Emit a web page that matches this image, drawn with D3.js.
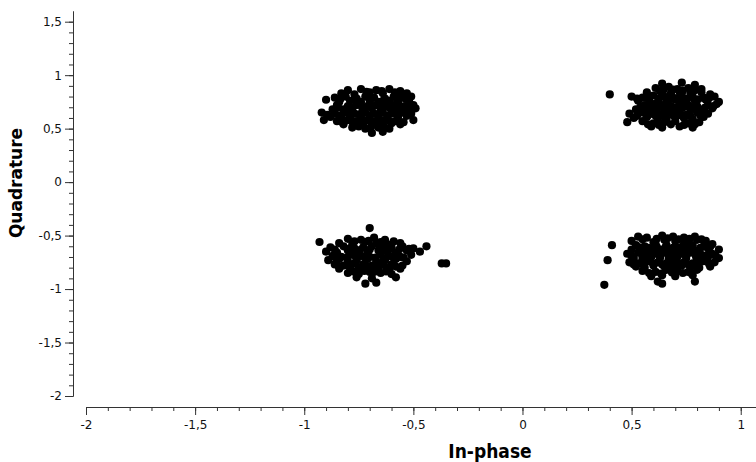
<!DOCTYPE html>
<html><head><meta charset="utf-8">
<script src="https://cdn.jsdelivr.net/npm/d3@7"></script>
<style>
html,body{margin:0;padding:0;background:#fff;}
svg{display:block;}
</style></head>
<body>
<svg id="chart" width="756" height="462"></svg>
<script>
// ---- data (In-phase, Quadrature) ----
const clusterTopLeft = [
 [-0.80,0.86],[-0.74,0.87],[-0.67,0.86],[-0.61,0.87],[-0.56,0.85],
 [-0.83,0.83],[-0.77,0.82],[-0.70,0.84],[-0.64,0.83],[-0.58,0.82],[-0.53,0.83],
 [-0.86,0.79],[-0.81,0.80],[-0.76,0.78],[-0.72,0.80],[-0.68,0.79],[-0.63,0.78],[-0.59,0.80],[-0.55,0.79],[-0.51,0.80],
 [-0.90,0.77],[-0.84,0.75],[-0.79,0.76],[-0.74,0.75],[-0.70,0.76],[-0.66,0.75],[-0.61,0.76],[-0.57,0.74],[-0.52,0.76],
 [-0.85,0.72],[-0.80,0.71],[-0.76,0.72],[-0.71,0.71],[-0.67,0.72],[-0.63,0.71],[-0.59,0.72],[-0.54,0.71],[-0.50,0.72],
 [-0.87,0.68],[-0.82,0.68],[-0.78,0.67],[-0.73,0.68],[-0.69,0.69],[-0.65,0.67],[-0.60,0.68],[-0.56,0.67],[-0.52,0.68],[-0.49,0.69],
 [-0.92,0.65],[-0.86,0.64],[-0.81,0.65],[-0.77,0.64],[-0.72,0.65],[-0.68,0.64],[-0.64,0.65],[-0.59,0.64],[-0.55,0.65],[-0.51,0.64],
 [-0.88,0.61],[-0.83,0.61],[-0.79,0.60],[-0.74,0.61],[-0.70,0.60],[-0.66,0.61],[-0.62,0.60],[-0.57,0.61],[-0.53,0.62],
 [-0.91,0.58],[-0.85,0.57],[-0.80,0.58],[-0.76,0.57],[-0.71,0.58],[-0.67,0.57],[-0.63,0.58],[-0.58,0.57],[-0.50,0.58],
 [-0.82,0.54],[-0.77,0.55],[-0.73,0.54],[-0.69,0.53],[-0.64,0.54],[-0.60,0.55],[-0.56,0.54],
 [-0.78,0.51],[-0.72,0.50],[-0.66,0.51],[-0.61,0.50],
 [-0.69,0.46],[-0.64,0.47],
 [-0.715,0.845],[-0.645,0.85],[-0.585,0.84],
 [-0.835,0.775],[-0.765,0.77],[-0.695,0.78],[-0.635,0.77],[-0.575,0.775],[-0.535,0.78],
 [-0.845,0.70],[-0.785,0.695],[-0.735,0.70],[-0.69,0.705],[-0.65,0.70],[-0.61,0.695],[-0.57,0.70],[-0.525,0.70],
 [-0.895,0.63],[-0.84,0.625],[-0.79,0.63],[-0.745,0.635],[-0.70,0.625],[-0.66,0.63],[-0.615,0.625],[-0.57,0.635],[-0.53,0.63],
 [-0.825,0.56],[-0.78,0.565],[-0.735,0.56],[-0.69,0.555],[-0.65,0.56],[-0.605,0.565],[-0.545,0.56],
 [-0.75,0.52],[-0.695,0.515],[-0.635,0.52]
];
const clusterTopRight = [
 [0.40,0.82],
 [0.64,0.92],[0.73,0.93],[0.79,0.91],
 [0.61,0.88],[0.67,0.89],[0.71,0.87],[0.76,0.88],[0.82,0.87],
 [0.57,0.84],[0.63,0.85],[0.68,0.83],[0.72,0.84],[0.77,0.83],[0.82,0.84],[0.86,0.82],
 [0.50,0.80],[0.55,0.79],[0.60,0.81],[0.65,0.80],[0.69,0.79],[0.73,0.81],[0.78,0.80],[0.83,0.79],[0.88,0.80],
 [0.53,0.76],[0.58,0.77],[0.62,0.75],[0.66,0.76],[0.70,0.77],[0.74,0.75],[0.79,0.76],[0.84,0.77],[0.90,0.75],
 [0.56,0.72],[0.60,0.73],[0.64,0.72],[0.68,0.71],[0.72,0.73],[0.76,0.72],[0.80,0.71],[0.85,0.72],[0.89,0.73],
 [0.52,0.68],[0.57,0.69],[0.61,0.68],[0.65,0.67],[0.69,0.68],[0.73,0.69],[0.77,0.68],[0.82,0.67],[0.87,0.69],
 [0.49,0.64],[0.55,0.65],[0.59,0.64],[0.63,0.63],[0.67,0.65],[0.71,0.64],[0.75,0.63],[0.80,0.65],[0.85,0.64],
 [0.51,0.60],[0.57,0.61],[0.62,0.60],[0.66,0.59],[0.70,0.61],[0.74,0.60],[0.78,0.59],[0.83,0.61],
 [0.48,0.56],[0.55,0.57],[0.60,0.55],[0.65,0.56],[0.70,0.57],[0.76,0.55],[0.81,0.56],
 [0.59,0.52],[0.64,0.51],[0.72,0.52],[0.78,0.51],
 [0.645,0.86],[0.69,0.865],[0.735,0.855],[0.79,0.86],
 [0.525,0.78],[0.575,0.785],[0.625,0.78],[0.675,0.775],[0.715,0.785],[0.755,0.78],[0.805,0.775],[0.855,0.785],
 [0.54,0.70],[0.585,0.705],[0.625,0.70],[0.665,0.695],[0.705,0.70],[0.745,0.705],[0.785,0.70],[0.835,0.695],[0.875,0.71],
 [0.525,0.62],[0.575,0.625],[0.61,0.62],[0.65,0.615],[0.69,0.625],[0.73,0.62],[0.77,0.615],[0.815,0.625],
 [0.575,0.54],[0.625,0.535],[0.68,0.54],[0.74,0.535],[0.79,0.54]
];
const clusterBottomLeft = [
 [-0.70,-0.43],
 [-0.80,-0.53],[-0.74,-0.54],[-0.68,-0.52],[-0.63,-0.54],
 [-0.93,-0.56],[-0.84,-0.57],[-0.78,-0.58],[-0.72,-0.56],[-0.67,-0.57],[-0.62,-0.58],[-0.56,-0.57],
 [-0.88,-0.61],[-0.82,-0.60],[-0.77,-0.62],[-0.73,-0.61],[-0.69,-0.60],[-0.64,-0.62],[-0.60,-0.61],[-0.55,-0.60],[-0.50,-0.62],[-0.44,-0.60],
 [-0.90,-0.65],[-0.85,-0.66],[-0.80,-0.64],[-0.75,-0.65],[-0.71,-0.66],[-0.66,-0.64],[-0.62,-0.65],[-0.58,-0.66],[-0.53,-0.64],[-0.47,-0.65],
 [-0.87,-0.69],[-0.83,-0.70],[-0.78,-0.68],[-0.74,-0.69],[-0.70,-0.70],[-0.65,-0.68],[-0.61,-0.69],[-0.56,-0.70],[-0.51,-0.68],
 [-0.89,-0.73],[-0.84,-0.72],[-0.80,-0.74],[-0.76,-0.73],[-0.71,-0.72],[-0.67,-0.74],[-0.63,-0.73],[-0.58,-0.72],[-0.53,-0.74],
 [-0.86,-0.77],[-0.82,-0.78],[-0.77,-0.76],[-0.73,-0.77],[-0.69,-0.78],[-0.64,-0.76],[-0.60,-0.77],[-0.55,-0.78],[-0.37,-0.76],[-0.35,-0.76],
 [-0.84,-0.81],[-0.79,-0.80],[-0.74,-0.82],[-0.70,-0.81],[-0.66,-0.80],[-0.61,-0.82],[-0.56,-0.81],
 [-0.80,-0.85],[-0.75,-0.86],[-0.70,-0.84],[-0.65,-0.85],[-0.60,-0.86],
 [-0.76,-0.89],[-0.69,-0.90],[-0.58,-0.89],
 [-0.72,-0.95],[-0.67,-0.94],
 [-0.77,-0.555],[-0.705,-0.55],[-0.65,-0.56],[-0.59,-0.555],
 [-0.86,-0.63],[-0.795,-0.625],[-0.745,-0.635],[-0.70,-0.63],[-0.655,-0.625],[-0.615,-0.635],[-0.565,-0.63],[-0.52,-0.625],
 [-0.855,-0.71],[-0.805,-0.705],[-0.76,-0.715],[-0.72,-0.71],[-0.675,-0.705],[-0.635,-0.715],[-0.59,-0.71],[-0.545,-0.705],
 [-0.84,-0.79],[-0.795,-0.785],[-0.75,-0.795],[-0.71,-0.79],[-0.665,-0.785],[-0.625,-0.795],[-0.58,-0.79],
 [-0.775,-0.835],[-0.725,-0.83],[-0.68,-0.84],[-0.625,-0.835]
];
const clusterBottomRight = [
 [0.53,-0.51],[0.57,-0.52],[0.64,-0.50],[0.69,-0.51],[0.74,-0.52],[0.79,-0.51],
 [0.50,-0.55],[0.60,-0.56],[0.65,-0.54],[0.70,-0.55],[0.75,-0.56],[0.80,-0.54],[0.84,-0.55],
 [0.41,-0.59],[0.52,-0.59],[0.56,-0.60],[0.61,-0.58],[0.66,-0.59],[0.70,-0.60],[0.74,-0.58],[0.78,-0.59],[0.83,-0.60],[0.87,-0.58],
 [0.50,-0.63],[0.55,-0.64],[0.59,-0.62],[0.63,-0.63],[0.67,-0.64],[0.71,-0.62],[0.75,-0.63],[0.80,-0.64],[0.85,-0.62],[0.90,-0.63],
 [0.48,-0.67],[0.53,-0.66],[0.57,-0.68],[0.61,-0.67],[0.65,-0.66],[0.69,-0.68],[0.73,-0.67],[0.77,-0.66],[0.82,-0.68],[0.87,-0.67],
 [0.51,-0.71],[0.55,-0.72],[0.59,-0.70],[0.63,-0.71],[0.67,-0.72],[0.71,-0.70],[0.75,-0.71],[0.80,-0.72],[0.85,-0.70],[0.90,-0.71],
 [0.39,-0.73],
 [0.49,-0.75],[0.53,-0.76],[0.58,-0.74],[0.62,-0.75],[0.66,-0.76],[0.70,-0.74],[0.74,-0.75],[0.78,-0.76],[0.83,-0.74],[0.88,-0.75],
 [0.52,-0.79],[0.56,-0.80],[0.60,-0.78],[0.65,-0.79],[0.69,-0.80],[0.73,-0.78],[0.77,-0.79],[0.81,-0.80],[0.86,-0.79],
 [0.55,-0.83],[0.61,-0.84],[0.66,-0.82],[0.71,-0.83],[0.76,-0.84],[0.80,-0.82],
 [0.59,-0.88],[0.64,-0.87],[0.70,-0.88],[0.78,-0.87],
 [0.62,-0.93],[0.79,-0.93],
 [0.375,-0.96],[0.64,-0.95],
 [0.55,-0.535],[0.615,-0.53],[0.665,-0.525],[0.715,-0.535],[0.765,-0.53],[0.82,-0.535],
 [0.535,-0.61],[0.575,-0.615],[0.615,-0.605],[0.655,-0.61],[0.69,-0.615],[0.73,-0.605],[0.77,-0.61],[0.815,-0.615],[0.86,-0.605],
 [0.50,-0.69],[0.55,-0.695],[0.59,-0.685],[0.63,-0.69],[0.67,-0.695],[0.71,-0.685],[0.75,-0.69],[0.795,-0.695],[0.845,-0.685],[0.885,-0.69],
 [0.51,-0.77],[0.555,-0.775],[0.60,-0.765],[0.64,-0.77],[0.68,-0.775],[0.72,-0.765],[0.76,-0.77],[0.80,-0.775],[0.855,-0.765],
 [0.58,-0.85],[0.635,-0.855],[0.685,-0.845],[0.735,-0.85],[0.775,-0.855]
];
const xMajorTicks = [-2, -1.5, -1, -0.5, 0, 0.5, 1];
const yMajorTicks = [-2, -1.5, -1, -0.5, 0, 0.5, 1, 1.5];
const xMinorTicks = d3.range(-20, 11).map(d => d / 10);
const yMinorTicks = d3.range(-20, 16).map(d => d / 10);
const xTitle = "In-phase";
const yTitle = "Quadrature";

// ---- drawing ----
const svg = d3.select("#chart");
const x = d3.scaleLinear().domain([-2, 1.07]).range([86, 756]);
const y = d3.scaleLinear().domain([-2, 1.6]).range([396, 11]);
const fmt = d => String(d).replace(".", ",");
const axisColor = "#333";

const points = [].concat(clusterTopLeft, clusterTopRight, clusterBottomLeft, clusterBottomRight);
svg.append("g").selectAll("circle").data(points).join("circle")
  .attr("cx", d => x(d[0])).attr("cy", d => y(d[1])).attr("r", 4.1).attr("fill", "#000");

// y axis
const gy = svg.append("g").attr("transform", "translate(73,0)");
gy.append("g").call(d3.axisLeft(y).tickValues(yMinorTicks).tickSize(4).tickFormat("").tickSizeOuter(0));
gy.append("g").call(d3.axisLeft(y).tickValues(yMajorTicks).tickSize(8).tickPadding(3).tickFormat(fmt).tickSizeOuter(0));
// x axis
const gx = svg.append("g").attr("transform", "translate(0,407)");
gx.append("g").call(d3.axisBottom(x).tickValues(xMinorTicks).tickSize(4).tickFormat("").tickSizeOuter(0));
gx.append("g").call(d3.axisBottom(x).tickValues(xMajorTicks).tickSize(8).tickPadding(5).tickFormat(fmt).tickSizeOuter(0));

svg.selectAll(".domain, .tick line").attr("stroke", axisColor);
svg.selectAll(".tick text").attr("fill", "#111").style("font-family", "DejaVu Sans, Verdana, sans-serif").style("font-size", "12px");

svg.append("text").text(yTitle)
  .attr("transform", "translate(22,183) rotate(-90)")
  .attr("text-anchor", "middle")
  .style("font-family", "DejaVu Sans, sans-serif").style("font-weight", "bold").style("font-size", "17px").attr("fill", "#000");
svg.append("text").text(xTitle)
  .attr("x", 490).attr("y", 458)
  .attr("text-anchor", "middle")
  .style("font-family", "DejaVu Sans Condensed, DejaVu Sans, sans-serif").style("font-stretch", "condensed").style("font-weight", "bold").style("font-size", "19px").attr("fill", "#000");
</script>
</body></html>
